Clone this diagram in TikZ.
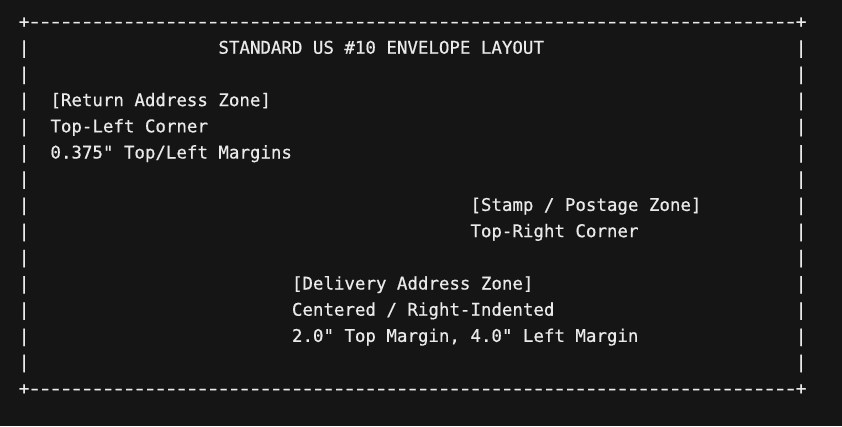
\documentclass[tikz,border=0pt]{standalone}
\usepackage{graphicx}
\usepackage{fontspec}
\newfontfamily\mono[FakeBold=0.6]{DejaVu Sans Mono}
\definecolor{bg}{HTML}{151515}
\definecolor{fg}{HTML}{EAEAEA}
\newcommand{\widedash}{\makebox[10.5pt][c]{\scalebox{1.35}[1]{-}}}
\newcommand{\tendash}{\widedash\widedash\widedash\widedash\widedash\widedash\widedash\widedash\widedash\widedash}
\newcommand{\borderline}{\makebox[10.5pt][c]{+}\tendash\tendash\tendash\tendash\tendash\tendash\tendash\widedash\widedash\widedash\makebox[10.5pt][c]{+}}
\begin{document}
\begin{tikzpicture}[x=1pt,y=-1pt,
  ch/.style={font=\mono\fontsize{17.44}{20}\selectfont, text=fg, inner sep=0pt, anchor=base west}]
\fill[bg] (0,0) rectangle (842,426);
\useasboundingbox (0,0) rectangle (842,426);
\def\colx#1{18.75+10.5*#1}
\def\rowy#1{27.5+26.2*#1}
% border rows
\node[ch] (topborder) at ({\colx{0}},{\rowy{0}}) {\borderline};
\node[ch] (bottomborder) at ({\colx{0}},{\rowy{14}}) {\borderline};
% side rows
\foreach \r in {1,...,13}{
  \node[ch] (barL\r) at ({\colx{0}},{\rowy{\r}}) {|};
  \node[ch] (barR\r) at ({\colx{74}},{\rowy{\r}}) {|};
}
% texts
\node[ch] (title) at ({\colx{19}},{\rowy{1}}) {STANDARD US \#10 ENVELOPE LAYOUT};
\node[ch] (ret1) at ({\colx{3}},{\rowy{3}}) {[Return Address Zone]};
\node[ch] (ret2) at ({\colx{3}},{\rowy{4}}) {Top-Left Corner};
\node[ch] (ret3) at ({\colx{3}},{\rowy{5}}) {0.375" Top/Left Margins};
\node[ch] (stamp1) at ({\colx{43}},{\rowy{7}}) {[Stamp / Postage Zone]};
\node[ch] (stamp2) at ({\colx{43}},{\rowy{8}}) {Top-Right Corner};
\node[ch] (del1) at ({\colx{26}},{\rowy{10}}) {[Delivery Address Zone]};
\node[ch] (del2) at ({\colx{26}},{\rowy{11}}) {Centered / Right-Indented};
\node[ch] (del3) at ({\colx{26}},{\rowy{12}}) {2.0" Top Margin, 4.0" Left Margin};
\end{tikzpicture}
\end{document}
